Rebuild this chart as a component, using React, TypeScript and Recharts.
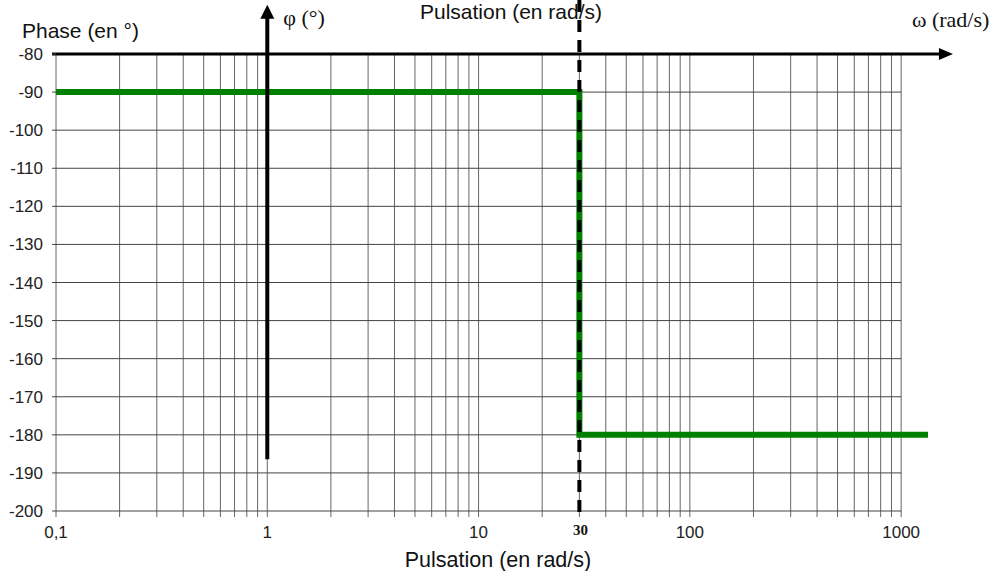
import { LineChart, Line, XAxis, YAxis, ReferenceLine } from 'recharts'

// phase response (asymptotic): -90° then drop to -180° at 30 rad/s
const omega = [0.1, 30, 30, 1340]
const phase = [-90, -90, -180, -180]

const xTicks = [0.1, 1, 10, 100, 1000]
const yTicks = [-80, -90, -100, -110, -120, -130, -140, -150, -160, -170, -180, -190, -200]
const decades = [0.1, 1, 10, 100]
const multipliers = [1, 2, 3, 4, 5, 6, 7, 8, 9]

const cornerFreq = 30

const data = omega.map((w, i) => ({ w, phase: phase[i] }))
const vGrid = [...decades.flatMap((d) => multipliers.map((m) => +(d * m).toPrecision(3))), 1000]

const SANS = '"Liberation Sans", Arial, sans-serif'
const SERIF = '"Liberation Serif", "Times New Roman", serif'

function fmtX(v: number): string {
  return v === 0.1 ? '0,1' : String(v)
}

function VArrow(p: any) {
  const { x1, y1, y2 } = p
  const top = Math.min(y1, y2)
  const bottom = Math.max(y1, y2)
  return (
    <g>
      <line x1={x1} x2={x1} y1={bottom} y2={top + 10} stroke="#000" strokeWidth={4} />
      <polygon points={`${x1},${top} ${x1 - 7},${top + 14} ${x1 + 7},${top + 14}`} fill="#000" />
      <text x={x1 + 16} y={top + 20} fontFamily={SERIF} fontSize={22} fill="#111">φ (°)</text>
    </g>
  )
}

function HArrow(p: any) {
  const { x1, x2, y1 } = p
  const left = Math.min(x1, x2)
  const right = Math.max(x1, x2)
  return (
    <g>
      <line x1={left} x2={right - 10} y1={y1} y2={y1} stroke="#000" strokeWidth={3} />
      <polygon points={`${right},${y1} ${right - 14},${y1 - 6} ${right - 14},${y1 + 6}`} fill="#000" />
      <text x={right - 41} y={y1 - 27} fontFamily={SERIF} fontSize={22} fill="#111">ω (rad/s)</text>
    </g>
  )
}

function DashedCut(p: any) {
  const { x1, y1, y2 } = p
  const top = Math.min(y1, y2)
  const bottom = Math.max(y1, y2)
  return (
    <g>
      <line x1={x1} x2={x1} y1={top} y2={bottom} stroke="#000" strokeWidth={4} strokeDasharray="12 8" />
      <text x={x1 + 1} y={bottom + 18} textAnchor="middle" fontFamily={SERIF} fontWeight="bold" fontSize={15} fill="#111">
        {cornerFreq}
      </text>
      <text x={511} y={top + 19} textAnchor="middle" fontFamily={SANS} fontSize={21} fill="#111">
        Pulsation (en rad/s)
      </text>
    </g>
  )
}

export default function App() {
  return (
    <div style={{ position: 'absolute', left: 0, top: 0, background: '#fff' }}>
      <LineChart width={1002} height={571} data={data} margin={{ top: 54, right: 74, bottom: 30, left: 6 }}>
        <XAxis
          dataKey="w"
          type="number"
          scale="log"
          domain={[0.1, 1340]}
          allowDataOverflow
          ticks={xTicks}
          tickFormatter={fmtX}
          axisLine={false}
          tickLine={false}
          tickSize={6}
          tickMargin={9}
          height={30}
          tick={{ fontSize: 17, fontFamily: SANS, fill: '#222' }}
          label={{
            content: () => (
              <text x={498} y={567} textAnchor="middle" fontFamily={SANS} fontSize={21.5} fill="#111">
                Pulsation (en rad/s)
              </text>
            ),
          }}
        />
        <YAxis
          type="number"
          domain={[-200, -80]}
          ticks={yTicks}
          interval={0}
          axisLine={false}
          tickLine={{ stroke: '#444' }}
          tickSize={4}
          tickMargin={9}
          width={50}
          tick={{ fontSize: 17, fontFamily: SANS, fill: '#222' }}
          label={{
            content: () => (
              <text x={22} y={38} fontFamily={SANS} fontSize={21} fill="#111">
                Phase (en °)
              </text>
            ),
          }}
        />

        {/* grille log : verticales jusqu'à 1000, petites graduations sous -200 */}
        {vGrid.map((v) => (
          <ReferenceLine
            key={'v' + v}
            segment={[{ x: v, y: -80 }, { x: v, y: -201.6 }]}
            stroke="#666"
            strokeWidth={1}
            ifOverflow="visible"
          />
        ))}
        {yTicks.map((t) => (
          <ReferenceLine
            key={'h' + t}
            segment={[{ x: 0.1, y: t }, { x: 1000, y: t }]}
            stroke="#444"
            strokeWidth={1}
            ifOverflow="visible"
          />
        ))}

        <Line
          type="linear"
          dataKey="phase"
          stroke="#008000"
          strokeWidth={6}
          strokeLinecap="round"
          dot={false}
          isAnimationActive={false}
        />

        {/* axes fléchés */}
        <ReferenceLine
          segment={[{ x: 1, y: -186.4 }, { x: 1, y: -67.1 }]}
          ifOverflow="visible"
          shape={VArrow}
        />
        <ReferenceLine
          segment={[{ x: 0.0957, y: -80 }, { x: 1758, y: -80 }]}
          ifOverflow="visible"
          shape={HArrow}
        />
        <ReferenceLine
          segment={[{ x: cornerFreq, y: -65.8 }, { x: cornerFreq, y: -201.6 }]}
          ifOverflow="visible"
          shape={DashedCut}
        />
      </LineChart>
    </div>
  )
}
